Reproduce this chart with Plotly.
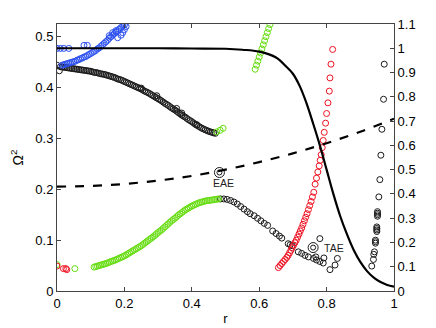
import plotly.graph_objects as go

# ---- data ----
# solid profile (right axis)
prof_r = [0, 0.1, 0.2, 0.3, 0.4, 0.5, 0.55, 0.6, 0.65, 0.68, 0.7, 0.72, 0.74, 0.76,
          0.78, 0.8, 0.82, 0.84, 0.86, 0.88, 0.9, 0.92, 0.94, 0.96, 0.98, 1.0]
prof_v = [1.0, 1.0, 1.0, 1.0, 0.999, 0.998, 0.994, 0.986, 0.962, 0.925, 0.895, 0.845,
          0.775, 0.69, 0.6, 0.5, 0.4, 0.31, 0.235, 0.17, 0.12, 0.082, 0.055, 0.037, 0.025, 0.018]
# dashed profile (right axis)
dash_r = [0, 0.1, 0.2, 0.3, 0.4, 0.5, 0.6, 0.7, 0.8, 0.9, 1.0]
dash_v = [0.43, 0.433, 0.441, 0.455, 0.474, 0.5, 0.531, 0.567, 0.609, 0.656, 0.71]

# black continuum points
blk_r = [0, 0.007,
         0.01, 0.02, 0.03, 0.04, 0.05, 0.06, 0.07, 0.08, 0.09, 0.10, 0.11, 0.12, 0.13, 0.14,
         0.15, 0.16, 0.17, 0.18, 0.19, 0.20, 0.21, 0.22, 0.23, 0.24, 0.25, 0.26, 0.27, 0.28,
         0.29, 0.30, 0.31, 0.32, 0.33, 0.34, 0.35, 0.36, 0.37, 0.38, 0.39, 0.40, 0.41, 0.42,
         0.43, 0.44, 0.45, 0.46, 0.47,
         0.296, 0.355, 0.37, 0.415, 0.25,
         0.485, 0.495, 0.505, 0.515, 0.525, 0.535, 0.545, 0.555, 0.565, 0.573,
         0.585, 0.595, 0.605, 0.615, 0.625,
         0.640, 0.650, 0.660, 0.667,
         0.686, 0.692, 0.698,
         0.716, 0.726, 0.736, 0.746,
         0.761, 0.770, 0.780, 0.790,
         0.78, 0.768, 0.792, 0.81, 0.825, 0.832,
         0.971, 0.969, 0.964, 0.961, 0.958, 0.955, 0.951, 0.951, 0.951, 0.951,
         0.949, 0.949, 0.949, 0.949, 0.945, 0.945, 0.945, 0.942, 0.940, 0.939, 0.934]
blk_w = [0.444, 0.433,
         0.441, 0.440, 0.439, 0.438, 0.437, 0.436, 0.435, 0.434, 0.433, 0.432, 0.430, 0.429,
         0.427, 0.426, 0.424, 0.422, 0.420, 0.417, 0.415, 0.412, 0.409, 0.406, 0.403, 0.400,
         0.397, 0.393, 0.390, 0.386, 0.382, 0.378, 0.374, 0.369, 0.365, 0.360, 0.356, 0.351,
         0.346, 0.342, 0.337, 0.333, 0.328, 0.324, 0.320, 0.317, 0.314, 0.312, 0.310,
         0.384, 0.359, 0.350, 0.327, 0.399,
         0.181, 0.181, 0.180, 0.178, 0.175, 0.171, 0.166, 0.161, 0.156, 0.152,
         0.148, 0.143, 0.138, 0.133, 0.129,
         0.118, 0.113, 0.108, 0.104,
         0.093, 0.091, 0.089,
         0.077, 0.074, 0.070, 0.067,
         0.064, 0.061, 0.058, 0.055,
         0.103, 0.067, 0.065, 0.042, 0.051, 0.064,
         0.446, 0.377, 0.318, 0.267, 0.219, 0.185, 0.156, 0.153, 0.150, 0.147,
         0.126, 0.123, 0.120, 0.117, 0.100, 0.097, 0.094, 0.077, 0.072, 0.062, 0.049]
# extra points between the above on the dense black branch
blk2_r = [0.015, 0.025, 0.035, 0.045, 0.055, 0.065, 0.075, 0.085, 0.095, 0.105, 0.115, 0.125,
          0.135, 0.145, 0.155, 0.165, 0.175, 0.185, 0.195, 0.205, 0.215, 0.225, 0.235, 0.245,
          0.255, 0.265, 0.275, 0.285, 0.295, 0.305, 0.315, 0.325, 0.335, 0.345, 0.355, 0.365,
          0.375, 0.385, 0.395, 0.405, 0.415, 0.425, 0.435, 0.445, 0.455, 0.465]
blk2_w = [0.4405, 0.4395, 0.4385, 0.4375, 0.4365, 0.4355, 0.4345, 0.4335, 0.4325, 0.431, 0.4295,
          0.428, 0.4265, 0.425, 0.423, 0.421, 0.4185, 0.416, 0.4135, 0.4105, 0.4075, 0.4045,
          0.4015, 0.3985, 0.395, 0.3915, 0.388, 0.384, 0.380, 0.376, 0.3715, 0.367, 0.3625,
          0.358, 0.3535, 0.3485, 0.344, 0.3395, 0.335, 0.3305, 0.326, 0.322, 0.3185, 0.3155,
          0.313, 0.311]

# blue branch
blu_r = [0, 0.01, 0.02, 0.035, 0.08, 0.09,
         0.015, 0.02, 0.025, 0.03, 0.035, 0.04, 0.045, 0.05, 0.055, 0.06, 0.065, 0.07, 0.075,
         0.08, 0.085, 0.09, 0.095, 0.10, 0.105, 0.11, 0.115, 0.12, 0.125, 0.13, 0.135, 0.14,
         0.145, 0.15, 0.155, 0.16, 0.165, 0.17, 0.175, 0.18, 0.185, 0.19, 0.195, 0.20,
         0.155, 0.165, 0.175, 0.18, 0.19, 0.195, 0.2, 0.205]
blu_w = [0.477, 0.477, 0.477, 0.477, 0.483, 0.483,
         0.444, 0.445, 0.446, 0.447, 0.448, 0.449, 0.450, 0.451, 0.452, 0.454, 0.455, 0.457,
         0.458, 0.460, 0.461, 0.463, 0.465, 0.467, 0.469, 0.471, 0.473, 0.476, 0.478, 0.481,
         0.484, 0.487, 0.490, 0.493, 0.497, 0.500, 0.503, 0.506, 0.509, 0.512, 0.515, 0.518,
         0.521, 0.523,
         0.502, 0.508, 0.512, 0.498, 0.503, 0.508, 0.514, 0.520]

# green branch
grn_r = [0, 0.053,
         0.11, 0.12, 0.13, 0.14, 0.15, 0.16, 0.17, 0.18, 0.19, 0.20, 0.21, 0.22, 0.23, 0.24,
         0.25, 0.26, 0.27, 0.28, 0.29, 0.30, 0.31, 0.32, 0.33, 0.34, 0.35, 0.36, 0.37, 0.38,
         0.39, 0.40, 0.41, 0.42, 0.43, 0.44, 0.45, 0.46, 0.47, 0.48,
         0.474, 0.484, 0.493,
         0.588, 0.592, 0.596, 0.600, 0.604, 0.608, 0.612, 0.616, 0.620, 0.624, 0.628, 0.632]
grn_w = [0.052, 0.044,
         0.047, 0.049, 0.051, 0.053, 0.055, 0.058, 0.060, 0.063, 0.066, 0.069, 0.073, 0.077,
         0.081, 0.085, 0.089, 0.094, 0.099, 0.104, 0.109, 0.115, 0.120, 0.126, 0.132, 0.138,
         0.143, 0.149, 0.154, 0.159, 0.163, 0.167, 0.170, 0.173, 0.175, 0.177, 0.178, 0.179,
         0.180, 0.181,
         0.313, 0.316, 0.320,
         0.436, 0.444, 0.452, 0.460, 0.468, 0.476, 0.484, 0.492, 0.500, 0.508, 0.516, 0.524]
# extra points on the dense green branch
grn2_r = [0.115, 0.125, 0.135, 0.145, 0.155, 0.165, 0.175, 0.185, 0.195, 0.205, 0.215, 0.225,
          0.235, 0.245, 0.255, 0.265, 0.275, 0.285, 0.295, 0.305, 0.315, 0.325, 0.335, 0.345,
          0.355, 0.365, 0.375, 0.385, 0.395, 0.405, 0.415, 0.425, 0.435, 0.445, 0.455, 0.465,
          0.475]
grn2_w = [0.048, 0.050, 0.052, 0.054, 0.0565, 0.059, 0.0615, 0.0645, 0.0675, 0.071, 0.075,
          0.079, 0.083, 0.087, 0.0915, 0.0965, 0.1015, 0.1065, 0.112, 0.1175, 0.123, 0.129,
          0.135, 0.1405, 0.146, 0.1515, 0.1565, 0.161, 0.165, 0.1685, 0.1715, 0.174, 0.176,
          0.1775, 0.1785, 0.1795, 0.1805]

# red branch
red_r = [0, 0.019, 0.026, 0.029,
         0.657, 0.662, 0.667, 0.672, 0.677, 0.682, 0.686, 0.690, 0.694, 0.698, 0.702, 0.706,
         0.710, 0.714, 0.718, 0.722, 0.726, 0.730, 0.734, 0.738, 0.742, 0.746, 0.750, 0.754,
         0.758, 0.762, 0.766, 0.770, 0.774, 0.778, 0.781,
         0.784, 0.787, 0.790, 0.793, 0.797, 0.800, 0.804, 0.808, 0.810, 0.813, 0.818]
red_w = [0.049, 0.044, 0.044, 0.042,
         0.046, 0.050, 0.054, 0.058, 0.062, 0.066, 0.070, 0.075, 0.080, 0.085, 0.090, 0.095,
         0.100, 0.106, 0.112, 0.118, 0.124, 0.131, 0.138, 0.145, 0.152, 0.160, 0.168, 0.176,
         0.185, 0.194, 0.210, 0.222, 0.234, 0.246, 0.257,
         0.268, 0.282, 0.296, 0.312, 0.330, 0.349, 0.370, 0.393, 0.419, 0.446, 0.475, 0.507]

# labelled modes
mode_names = ["EAE", "TAE"]
mode_r = [0.482, 0.76]
mode_w = [0.233, 0.0854]

fig = go.Figure()

fig.add_trace(go.Scatter(x=prof_r, y=prof_v, yaxis="y2", mode="lines",
                         line=dict(color="black", width=2.2), line_shape="spline"))
fig.add_trace(go.Scatter(x=dash_r, y=dash_v, yaxis="y2", mode="lines",
                         line=dict(color="black", width=2.2, dash="dash"), line_shape="spline"))

def circles(x, y, color):
    return go.Scatter(x=x, y=y, mode="markers",
                      marker=dict(symbol="circle-open", size=6, color=color,
                                  line=dict(width=1, color=color)))

fig.add_trace(circles(blk_r + blk2_r, blk_w + blk2_w, "#1a1a1a"))
fig.add_trace(circles(blu_r, blu_w, "#2b4ff0"))
fig.add_trace(circles(grn_r + grn2_r, grn_w + grn2_w, "#66dd11"))
fig.add_trace(circles(red_r, red_w, "#ee1122"))

# bullseye markers for the labelled modes
for s in [10, 5]:
    fig.add_trace(go.Scatter(x=mode_r, y=mode_w, mode="markers",
                             marker=dict(symbol="circle-open", size=s, color="#1a1a1a",
                                         line=dict(width=1, color="#1a1a1a"))))

fig.add_annotation(x=mode_r[0] + 0.013, y=mode_w[0] - 0.021, text=mode_names[0],
                   showarrow=False, font=dict(size=10.5, color="#222"))
fig.add_annotation(x=mode_r[1] + 0.025, y=mode_w[1], text=mode_names[1], xanchor="left",
                   showarrow=False, font=dict(size=10.5, color="#222"))

ax = dict(showline=True, linecolor="#444", linewidth=1, ticks="inside", ticklen=4,
          tickcolor="#444", showgrid=False, zeroline=False, automargin=False,
          tickfont=dict(family="Liberation Sans, Arial", size=13, color="black"))

# page body adds an 8px offset, so the figure is sized to the remaining window
fig.update_layout(
    width=428, height=320,
    margin=dict(l=49, r=42, t=16, b=37),
    paper_bgcolor="white", plot_bgcolor="white",
    showlegend=False,
    font=dict(family="Liberation Sans, Arial", size=13, color="black"),
    xaxis=dict(ax, range=[0, 1], mirror="ticks",
               tickvals=[0, 0.2, 0.4, 0.6, 0.8, 1], ticktext=["0", "0.2", "0.4", "0.6", "0.8", "1"],
               title=dict(text="r", standoff=4, font=dict(size=13))),
    yaxis=dict(ax, range=[0, 0.525],
               tickvals=[0, 0.1, 0.2, 0.3, 0.4, 0.5], ticktext=["0", "0.1", "0.2", "0.3", "0.4", "0.5"],
               title=dict(text="Ω<sup>2</sup>", standoff=12, font=dict(size=14))),
    yaxis2=dict(ax, range=[0, 1.1], overlaying="y", side="right",
                tickvals=[0, 0.1, 0.2, 0.3, 0.4, 0.5, 0.6, 0.7, 0.8, 0.9, 1.0, 1.1],
                ticktext=["0", "0.1", "0.2", "0.3", "0.4", "0.5", "0.6", "0.7", "0.8", "0.9", "1", "1.1"]),
)

fig.write_html("out.html")
